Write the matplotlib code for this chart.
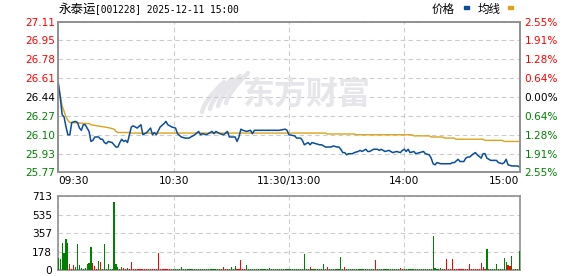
import numpy as np
import matplotlib
matplotlib.use("Agg")
import matplotlib.pyplot as plt
from matplotlib.patches import Rectangle

plt.rcParams['font.family'] = ['DejaVu Sans', 'Noto Sans CJK SC']

stock_name = "永泰运"
title_rest = "[001228] 2025-12-11 15:00"
pre_close = 26.44
price_ticks = [27.11, 26.95, 26.78, 26.61, 26.44, 26.27, 26.10, 25.93, 25.77]
pct_labels = ["2.55%", "1.91%", "1.28%", "0.64%", "0.00%", "0.64%", "1.28%", "1.91%", "2.55%"]
time_ticks = [0, 60, 120, 180, 240]
time_labels = ["09:30", "10:30", "11:30/13:00", "14:00", "15:00"]
vol_ticks = [0, 178, 357, 535, 713]

# minute index (0 = 09:30, 240 = 15:00) and price
price_minutes = [0, 1, 2, 3, 4, 5, 6, 7, 9, 10, 11, 12, 13, 14, 15, 16, 17, 18, 19, 21,
                 22, 23, 24, 25, 26, 28, 30, 31, 32, 33, 34, 35, 36, 37, 38, 39, 40, 41, 43, 44,
                 46, 48, 49, 50, 51, 53, 55, 56, 57, 59, 61, 62, 64, 66, 68, 69, 71, 73, 74, 75,
                 77, 80, 81, 82, 84, 86, 88, 89, 92, 93, 94, 95, 96, 98, 100, 101, 102, 105, 108, 112,
                 115, 118, 119, 120, 123, 124, 126, 127, 128, 130, 131, 132, 134, 136, 137, 139, 141, 142, 143, 145,
                 146, 147, 148, 149, 150, 151, 153, 154, 156, 157, 158, 160, 161, 162, 164, 166, 167, 168, 170, 172,
                 174, 176, 178, 179, 180, 181, 182, 183, 185, 186, 188, 190, 191, 193, 194, 195, 196, 197, 199, 201,
                 204, 205, 206, 208, 209, 211, 212, 213, 214, 216, 217, 218, 220, 221, 222, 223, 225, 226, 228, 229,
                 231, 232, 233, 234, 236, 238, 239, 240]
prices = [26.56, 26.44, 26.28, 26.26, 26.17, 26.10, 26.10, 26.21, 26.22, 26.21, 26.16, 26.14, 26.19, 26.19, 26.16, 26.13, 26.04, 26.05, 26.08, 26.08,
          26.06, 26.06, 26.03, 26.02, 26.04, 26.03, 25.99, 25.99, 26.03, 26.06, 26.04, 26.05, 26.03, 26.10, 26.17, 26.18, 26.17, 26.16, 26.19, 26.10,
          26.12, 26.16, 26.10, 26.12, 26.10, 26.17, 26.20, 26.22, 26.19, 26.17, 26.16, 26.11, 26.08, 26.07, 26.07, 26.08, 26.10, 26.13, 26.10, 26.11,
          26.10, 26.13, 26.11, 26.13, 26.11, 26.10, 26.13, 26.08, 26.08, 26.04, 26.08, 26.15, 26.14, 26.13, 26.14, 26.11, 26.14, 26.14, 26.14, 26.14,
          26.14, 26.15, 26.14, 26.10, 26.09, 26.07, 26.07, 26.05, 26.01, 26.03, 26.01, 26.03, 26.02, 26.01, 26.01, 25.99, 25.99, 25.99, 26.00, 25.99,
          25.99, 25.97, 25.94, 25.94, 25.92, 25.93, 25.93, 25.94, 25.95, 25.96, 25.95, 25.97, 25.95, 25.95, 25.97, 25.97, 25.96, 25.97, 25.95, 25.96,
          25.94, 25.95, 25.94, 25.96, 25.97, 25.95, 25.97, 25.94, 25.95, 25.93, 25.94, 25.95, 25.93, 25.92, 25.89, 25.84, 25.83, 25.85, 25.84, 25.84,
          25.84, 25.85, 25.85, 25.88, 25.86, 25.86, 25.89, 25.90, 25.90, 25.93, 25.94, 25.92, 25.89, 25.93, 25.93, 25.89, 25.87, 25.87, 25.87, 25.85,
          25.84, 25.85, 25.88, 25.83, 25.82, 25.82, 25.82, 25.81]

avg_minutes = [0, 1, 2, 3, 4, 5, 6, 16, 17, 20, 24, 27, 29, 30, 31, 37, 38, 139, 140, 154,
               155, 184, 185, 193, 194, 200, 201, 206, 207, 221, 222, 231, 232, 240]
avg_prices = [26.56, 26.45, 26.36, 26.31, 26.26, 26.23, 26.21, 26.20, 26.19, 26.18, 26.17, 26.16, 26.15, 26.13, 26.12, 26.12, 26.115, 26.115, 26.107, 26.107,
              26.10, 26.10, 26.09, 26.09, 26.08, 26.08, 26.07, 26.07, 26.06, 26.06, 26.05, 26.05, 26.04, 26.04]

# volume per minute, 241 bars
volumes = [120, 109, 266, 170, 300, 266, 61, 16, 51, 35,
           253, 50, 20, 12, 25, 60, 73, 224, 73, 42,
           12, 90, 83, 12, 253, 12, 61, 12, 12, 656,
           61, 29, 16, 32, 25, 12, 22, 12, 80, 12,
           12, 12, 12, 12, 12, 12, 12, 12, 12, 12,
           12, 12, 166, 12, 12, 12, 12, 12, 12, 12,
           12, 12, 12, 12, 29, 12, 12, 12, 12, 12,
           12, 12, 12, 12, 12, 12, 12, 12, 12, 12,
           12, 12, 12, 12, 12, 12, 32, 12, 12, 12,
           32, 12, 42, 12, 12, 102, 12, 12, 51, 12,
           12, 12, 12, 12, 12, 12, 12, 12, 12, 12,
           25, 12, 12, 12, 12, 12, 12, 12, 12, 12,
           12, 12, 12, 12, 12, 12, 12, 12, 157, 12,
           12, 29, 12, 12, 12, 12, 12, 12, 61, 12,
           29, 12, 12, 12, 12, 12, 12, 128, 12, 29,
           12, 12, 12, 12, 12, 12, 12, 12, 12, 12,
           12, 12, 12, 12, 12, 99, 12, 12, 12, 12,
           12, 12, 12, 12, 12, 12, 12, 12, 19, 12,
           12, 12, 12, 12, 12, 12, 12, 12, 12, 12,
           12, 12, 12, 12, 12, 330, 22, 12, 12, 22,
           12, 12, 109, 12, 12, 109, 12, 12, 12, 12,
           12, 12, 12, 12, 61, 12, 12, 12, 12, 12,
           70, 32, 12, 205, 12, 12, 12, 12, 61, 12,
           12, 12, 118, 83, 51, 42, 138, 12, 12, 12,
           186]
# r = up minute, g = down minute
vol_dirs = ("ggggggrrrg" "ggggggggrr" "rgrggggggg" "ggrgrrgrrr" "rrrrrrrrrr"
            "rrrrrrrrrr" "gggggggggg" "gggggggggg" "ggggggrrrg" "gggrrrrrgg"
            "gggggggggg" "gggggggggg" "gggggggggg" "grgggggggg" "rggggggggr"
            "gggggggggg" "gggggrgggg" "ggggggggrg" "gggggggggg" "gggggggggg"
            "rrrrrrrrrr" "rrrrrrrrrr" "rrrggggggg" "ggggrrggrg" "g")

blue = '#0a4d9c'
gold = '#dba31b'
grid_kw = dict(color='#cccccc', linestyle=(0, (4, 3)), linewidth=0.8)

fig = plt.figure(figsize=(5.78, 2.76), dpi=100)
ax = fig.add_axes([58.3 / 578, 104 / 276, 461.3 / 578, 150.3 / 276])
axv = fig.add_axes([58.3 / 578, 5.7 / 276, 461.3 / 578, 74.3 / 276])

# watermark: fan logo + brand text
wm = '#e6e6ea'
for k in range(4):
    t = np.linspace(0.0, 1.0, 20)
    xs = (202 + 8 * k + 22 * t) / 578
    ys = 1 - (112 - 30 * t ** 0.7 - 3 * k) / 276
    fig.add_artist(plt.Line2D(xs, ys, color=wm, lw=3.2, solid_capstyle='round', zorder=0))
fig.text(306 / 578, 1 - 96 / 276, "东方财富", family=['Noto Sans CJK SC'], fontsize=23, fontweight='bold',
         color=wm, ha='center', va='center', zorder=0, style='italic')

ax.plot(avg_minutes, avg_prices, color=gold, lw=1.0, zorder=3)
ax.plot(price_minutes, prices, color=blue, lw=1.1, zorder=4)
ax.set_xlim(0, 240)
ax.set_ylim(pre_close - 0.674, pre_close + 0.674)
ax.set_yticks(price_ticks)
ax.set_yticklabels([f"{v:.2f}" for v in price_ticks])
ax.set_xticks(time_ticks)
ax.set_xticklabels(time_labels)
ax.tick_params(length=0, labelsize=7.6, pad=2.5)
ax.tick_params(axis='x', pad=3)
xl = ax.get_xticklabels()
xl[0].set_ha('left')
xl[-1].set_ha('right')
ax.patch.set_alpha(0)
for t, v in zip(ax.get_yticklabels(), price_ticks):
    if v > pre_close:
        t.set_color('#ff0000')
    elif v < pre_close:
        t.set_color('#008000')
    else:
        t.set_color('#000000')
ax.grid(True, **grid_kw)

axr = ax.twinx()
axr.set_ylim(ax.get_ylim())
axr.set_yticks(price_ticks)
axr.set_yticklabels(pct_labels)
axr.tick_params(length=0, labelsize=7.6, pad=3.5)
for t, v in zip(axr.get_yticklabels(), price_ticks):
    if v > pre_close:
        t.set_color('#ff0000')
    elif v < pre_close:
        t.set_color('#008000')
    else:
        t.set_color('#000000')

vol_colors = ['#ff0000' if d == 'r' else '#008000' for d in vol_dirs]
axv.bar(range(len(volumes)), volumes, width=0.6, color=vol_colors[:len(volumes)], zorder=3)
axv.set_xlim(0, 240)
axv.set_ylim(0, 713)
axv.set_yticks(vol_ticks)
axv.set_xticks(time_ticks)
axv.set_xticklabels([])
axv.tick_params(length=0, labelsize=7.6, pad=4.5)
axv.grid(True, **grid_kw)

for a in (ax, axr, axv):
    for s in a.spines.values():
        s.set_color('#909090')
        s.set_linewidth(1.2)

fig.text(59 / 578, 1 - 9 / 276, stock_name, family=['Noto Sans CJK SC'], fontsize=9, va='center')
fig.text(95 / 578, 1 - 9 / 276, title_rest, family=['DejaVu Sans Mono'], fontsize=6.9, va='center')
fig.text(431.7 / 578, 1 - 9 / 276, "价格", family=['Noto Sans CJK SC'], fontsize=8.3, va='center')
fig.text(478 / 578, 1 - 9 / 276, "均线", family=['Noto Sans CJK SC'], fontsize=8.3, va='center')
fig.patches.append(Rectangle((463.5 / 578, 1 - 8.5 / 276), 5 / 578, 2.2 / 276, transform=fig.transFigure,
                             color=blue, figure=fig))
fig.patches.append(Rectangle((507.7 / 578, 1 - 8.5 / 276), 5 / 578, 2.2 / 276, transform=fig.transFigure,
                             color=gold, figure=fig))

fig.savefig("out.png", dpi=100)
